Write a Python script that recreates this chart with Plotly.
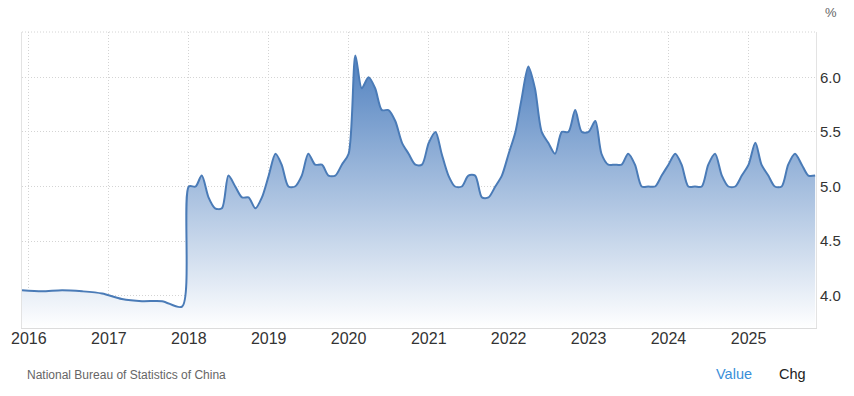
import pandas as pd
import plotly.graph_objects as go

# Registered urban unemployment rate (quarterly, before 2018)
registered_dates = ["2015-12-01", "2016-03-01", "2016-06-01", "2016-09-01", "2016-12-01",
                    "2017-03-01", "2017-06-01", "2017-09-01", "2017-12-01"]
registered_values = [4.05, 4.04, 4.05, 4.04, 4.02, 3.97, 3.95, 3.95, 3.90]

# Surveyed urban unemployment rate (monthly, from 2018)
u2018 = [5.0, 5.0, 5.1, 4.9, 4.8, 4.8, 5.1, 5.0, 4.9, 4.9, 4.8, 4.9]
u2019 = [5.1, 5.3, 5.2, 5.0, 5.0, 5.1, 5.3, 5.2, 5.2, 5.1, 5.1, 5.2]
u2020 = [5.3, 6.2, 5.9, 6.0, 5.9, 5.7, 5.7, 5.6, 5.4, 5.3, 5.2, 5.2]
u2021 = [5.4, 5.5, 5.3, 5.1, 5.0, 5.0, 5.1, 5.1, 4.9, 4.9, 5.0, 5.1]
u2022 = [5.3, 5.5, 5.8, 6.1, 5.9, 5.5, 5.4, 5.3, 5.5, 5.5, 5.7, 5.5]
u2023 = [5.5, 5.6, 5.3, 5.2, 5.2, 5.2, 5.3, 5.2, 5.0, 5.0, 5.0, 5.1]
u2024 = [5.2, 5.3, 5.2, 5.0, 5.0, 5.0, 5.2, 5.3, 5.1, 5.0, 5.0, 5.1]
u2025 = [5.2, 5.4, 5.2, 5.1, 5.0, 5.0, 5.2, 5.3, 5.2, 5.1, 5.1]

surveyed = {2018: u2018, 2019: u2019, 2020: u2020, 2021: u2021,
            2022: u2022, 2023: u2023, 2024: u2024, 2025: u2025}

year_ticks = [2016, 2017, 2018, 2019, 2020, 2021, 2022, 2023, 2024, 2025]
y_ticks = [4.0, 4.5, 5.0, 5.5, 6.0]

dates = list(registered_dates)
values = list(registered_values)
for yr, vals in surveyed.items():
    months = pd.date_range(f"{yr}-01-01", periods=len(vals), freq="MS")
    dates += [d.strftime("%Y-%m-%d") for d in months]
    values += vals

line_color = "#4a7bb7"

fig = go.Figure()
fig.add_trace(go.Scatter(
    x=dates, y=values, mode="lines",
    line=dict(color=line_color, width=2, shape="spline", smoothing=0.8),
    fill="tozeroy",
    fillgradient=dict(type="vertical",
                      colorscale=[[0, "rgb(255,255,255)"], [1, "rgb(79,128,191)"]],
                      start=3.70, stop=6.22),
    hoverinfo="skip", showlegend=False,
))

grid_color = "#d4d4d4"
grid_dash = "1px,2px"
fig.update_layout(
    width=854, height=396,
    margin=dict(l=22, r=38, t=32, b=68),
    paper_bgcolor="white", plot_bgcolor="white",
    font=dict(family="Liberation Sans, Arial, sans-serif", color="#333"),
    xaxis=dict(
        type="date",
        range=["2015-12-01", "2025-11-05"],
        tickvals=[f"{y}-01-01" for y in year_ticks],
        ticktext=[str(y) for y in year_ticks],
        showgrid=True, gridcolor=grid_color, griddash=grid_dash, gridwidth=1,
        showline=True, linecolor="#dcdcdc", linewidth=1,
        ticks="", tickfont=dict(size=16, color="#333"),
        ticklabelstandoff=-4,
        zeroline=False, fixedrange=True,
    ),
    yaxis=dict(
        side="right",
        range=[3.704, 6.415],
        tickvals=y_ticks,
        ticktext=[f"{v:.1f}" for v in y_ticks],
        showgrid=True, gridcolor=grid_color, griddash=grid_dash, gridwidth=1,
        showline=True, mirror=True, linecolor="#e3e3e3", linewidth=1,
        ticks="", tickfont=dict(size=15, color="#333"),
        zeroline=False, fixedrange=True,
    ),
    shapes=[dict(type="line", xref="paper", yref="paper", x0=0, x1=1, y0=1, y1=1,
                 line=dict(color=grid_color, width=1, dash=grid_dash))],
    annotations=[
        dict(text="%", xref="paper", yref="paper", x=1.0183, y=1.066,
             xanchor="center", yanchor="middle", showarrow=False,
             font=dict(size=13, color="#666")),
        dict(text="National Bureau of Statistics of China", xref="paper", yref="paper",
             x=0.004, y=-0.159, xanchor="left", yanchor="middle", showarrow=False,
             font=dict(size=12, color="#666")),
        dict(text="Value", xref="paper", yref="paper", x=0.8715, y=-0.1554,
             xanchor="left", yanchor="middle", showarrow=False,
             font=dict(size=14.5, color="#3a8fd9")),
        dict(text="Chg", xref="paper", yref="paper", x=0.9508, y=-0.1554,
             xanchor="left", yanchor="middle", showarrow=False,
             font=dict(size=14.5, color="#222")),
    ],
)

fig.write_html("out.html")
